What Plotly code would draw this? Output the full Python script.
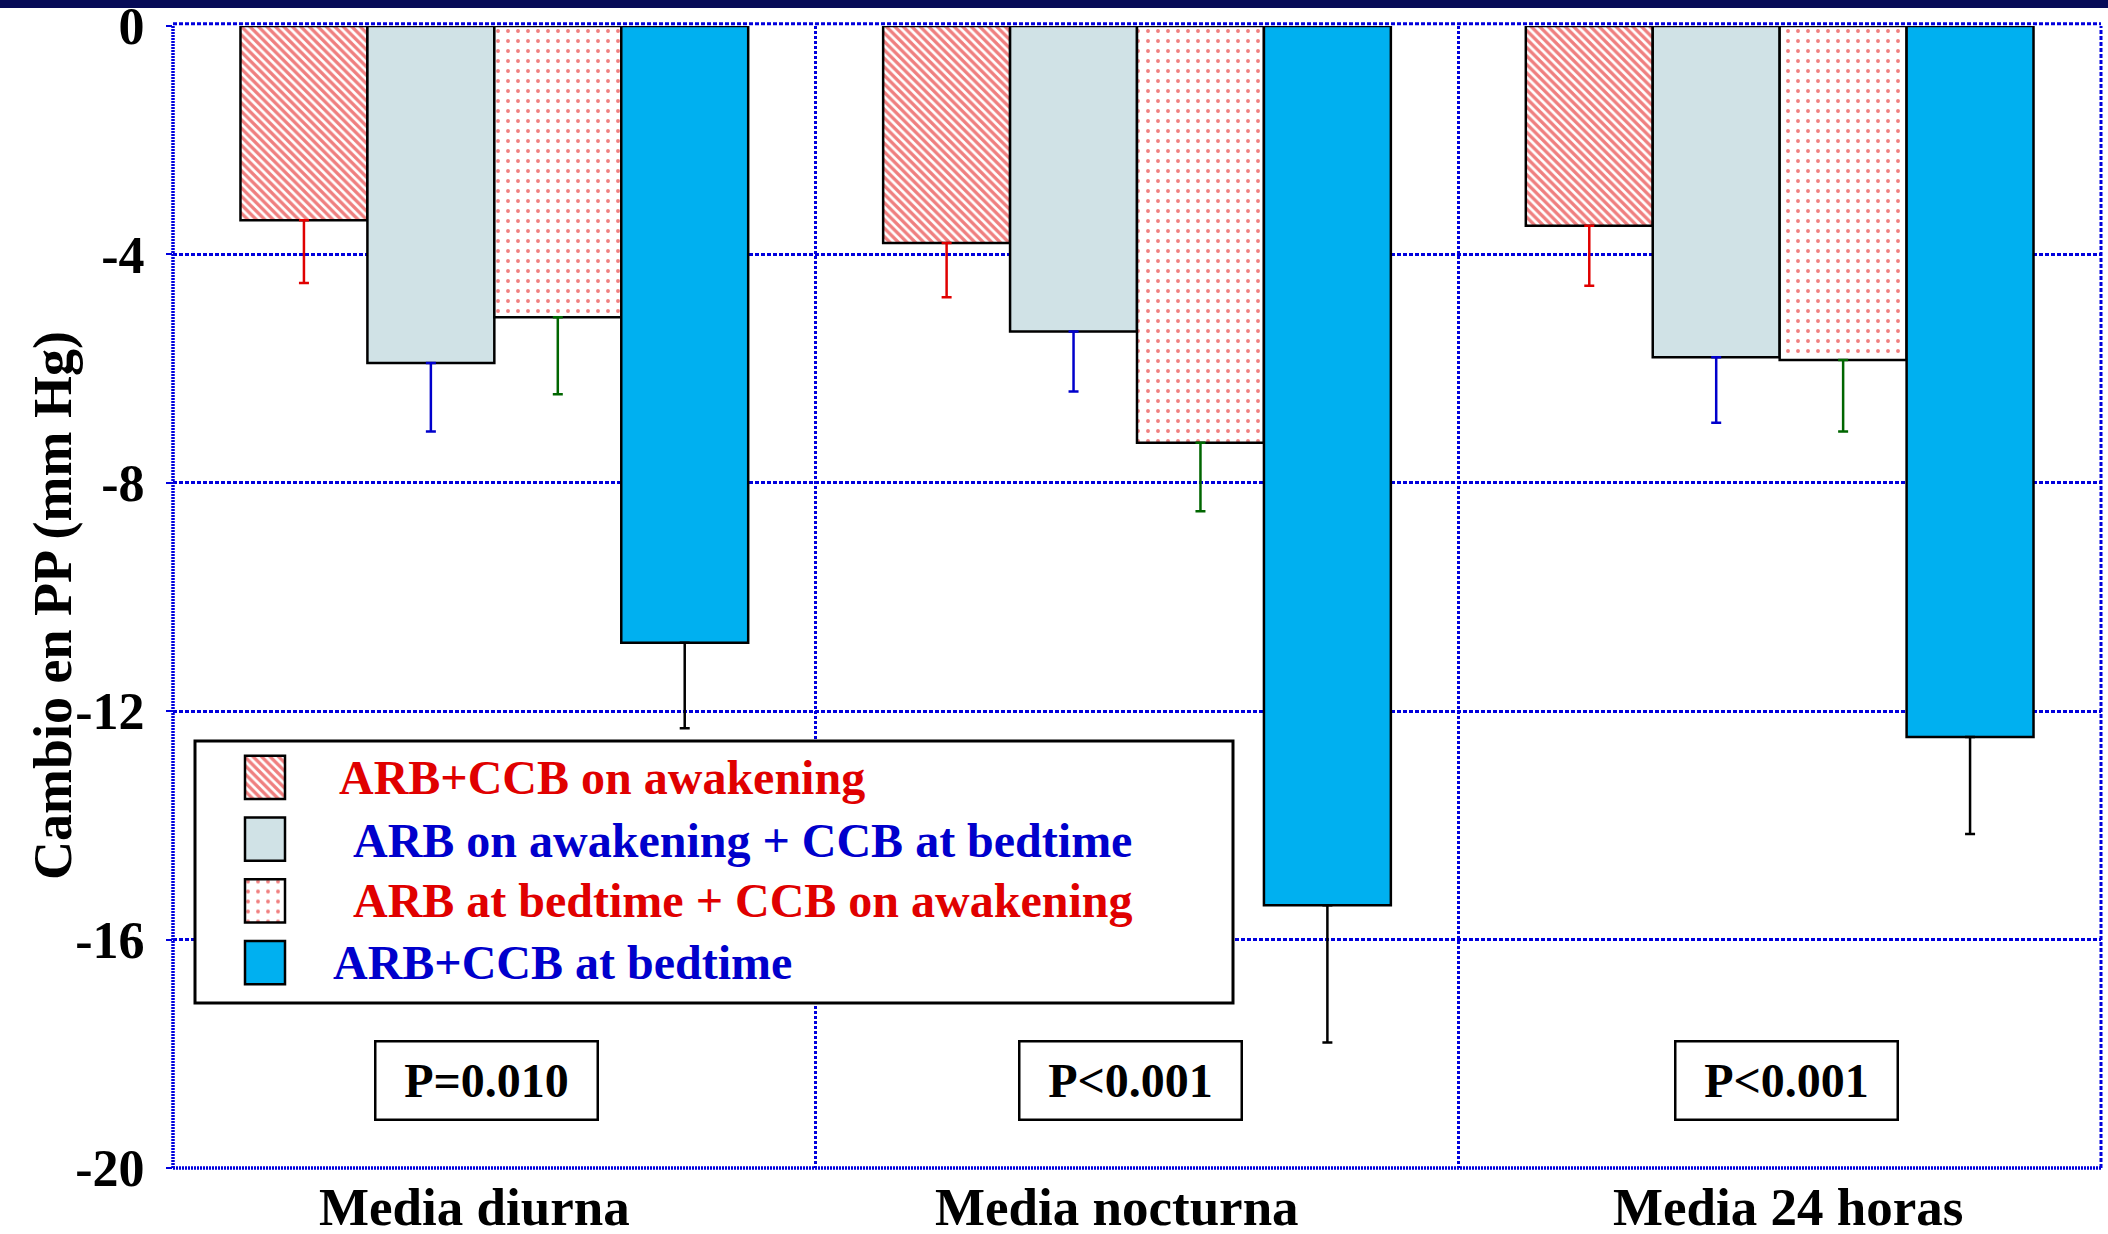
import plotly.graph_objects as go

# ---------------- data ----------------
categories = ["Media diurna", "Media nocturna", "Media 24 horas"]
series_names = [
    "ARB+CCB on awakening",
    "ARB on awakening + CCB at bedtime",
    "ARB at bedtime + CCB on awakening",
    "ARB+CCB at bedtime",
]
v_arbccb_awak = [-3.4, -3.8, -3.5]
v_arb_awak_ccb_bed = [-5.9, -5.35, -5.8]
v_arb_bed_ccb_awak = [-5.1, -7.3, -5.85]
v_arbccb_bed = [-10.8, -15.4, -12.45]

e_arbccb_awak = [1.1, 0.95, 1.05]
e_arb_awak_ccb_bed = [1.2, 1.05, 1.15]
e_arb_bed_ccb_awak = [1.35, 1.2, 1.25]
e_arbccb_bed = [1.5, 2.4, 1.7]

p_labels = ["P=0.010", "P<0.001", "P<0.001"]
y_ticks = [0, -4, -8, -12, -16, -20]

# ---------------- styling ----------------
FONT = "Liberation Serif"
RED = "#E00000"
BLUE = "#0000CC"
GRID = "#0000DD"

values = [v_arbccb_awak, v_arb_awak_ccb_bed, v_arb_bed_ccb_awak, v_arbccb_bed]
errors = [e_arbccb_awak, e_arb_awak_ccb_bed, e_arb_bed_ccb_awak, e_arbccb_bed]
err_colors = [RED, BLUE, "#006600", "#000000"]
text_colors = [RED, BLUE, RED, BLUE]
text_x_px = [337, 351, 351, 331]

def marker_for(i):
    line = dict(color="black", width=2.5)
    if i == 0:
        return dict(color="white", line=line,
                    pattern=dict(shape="\\", fgcolor=RED, bgcolor="white",
                                 size=6, solidity=0.55))
    if i == 1:
        return dict(color="#D0E2E6", line=line)
    if i == 2:
        return dict(color="white", line=line,
                    pattern=dict(shape=".", fgcolor=RED, bgcolor="white",
                                 size=10, solidity=0.12))
    return dict(color="#00B0F0", line=line)

fig = go.Figure()
for i in range(4):
    fig.add_trace(go.Bar(
        x=categories, y=values[i], name=series_names[i],
        marker=marker_for(i),
        error_y=dict(type="data", symmetric=False,
                     array=[0] * len(errors[i]), arrayminus=errors[i],
                     color=err_colors[i], thickness=2.5, width=5),
        showlegend=False, xaxis="x", yaxis="y",
    ))

# legend swatches (own small axes)
for i in range(4):
    fig.add_trace(go.Bar(
        x=[1], y=[i], base=[0], orientation="h", width=0.7,
        marker=marker_for(i), showlegend=False,
        xaxis="x2", yaxis="y2", hoverinfo="skip",
    ))

W, H = 2108, 1234
L, R, T, B = 173, 7, 26, 66
PW, PH = W - L - R, H - T - B

def px_x(p):
    return (p - L) / PW

def px_y(p):
    return (H - B - p) / PH

fig.update_layout(
    width=W, height=H,
    margin=dict(l=L, r=R, t=T, b=B, autoexpand=False),
    paper_bgcolor="white", plot_bgcolor="rgba(0,0,0,0)",
    barmode="group", bargap=0.21, bargroupgap=0,
    font=dict(family=FONT, color="black"),
    xaxis=dict(
        domain=[0, 1], type="category", tickson="boundaries",
        showgrid=True, gridcolor=GRID, gridwidth=2.5, griddash="3px,2px",
        ticks="", showline=False, zeroline=False, showticklabels=False,
    ),
    yaxis=dict(
        range=[-20, 0], tickvals=y_ticks, ticktext=[str(t) for t in y_ticks],
        showgrid=True, gridcolor=GRID, gridwidth=3, griddash="4px,2px",
        zeroline=False, showline=False,
        ticks="outside", ticklen=6, tickcolor=GRID, tickwidth=2,
        tickfont=dict(family=FONT, size=52, color="black", weight="bold"),
        ticklabelstandoff=11, ticklabeloverflow="allow",
    ),
    xaxis2=dict(domain=[px_x(243), px_x(287)], range=[-0.05, 1.05],
                visible=False, anchor="y2", fixedrange=True),
    yaxis2=dict(domain=[px_y(993.5), px_y(746.5)], range=[3.5, -0.5],
                visible=False, anchor="x2", fixedrange=True),
)

def cat_x(p):
    return (p - L) / (PW / 3) - 0.5

def val_y(p):
    return -(p - T) / (PH / 20)

shapes = []
# top navy band
shapes.append(dict(type="rect", xref="paper", yref="paper",
                   x0=px_x(0), x1=px_x(W), y0=px_y(8), y1=px_y(0),
                   fillcolor="#070B57", line=dict(width=0), layer="above"))
# frame
shapes.append(dict(type="line", xref="paper", yref="paper", x0=0, x1=1, y0=1.002, y1=1.002,
                   line=dict(color=GRID, width=3, dash="4px,2px"), layer="below"))
shapes.append(dict(type="line", xref="paper", yref="paper", x0=1, x1=1, y0=0, y1=1,
                   line=dict(color=GRID, width=3, dash="4px,2px"), layer="above"))
shapes.append(dict(type="line", xref="paper", yref="paper", x0=0, x1=1, y0=0, y1=0,
                   line=dict(color=GRID, width=3.5, dash="2px,1px"), layer="above"))
shapes.append(dict(type="line", xref="paper", yref="paper", x0=0, x1=0, y0=0, y1=1,
                   line=dict(color=GRID, width=3.5, dash="2px,1px"), layer="above"))
# legend box
shapes.append(dict(type="rect", xref="x", yref="y",
                   x0=cat_x(195), x1=cat_x(1233), y0=val_y(1003), y1=val_y(741),
                   fillcolor="white", line=dict(color="black", width=3), layer="between"))
fig.update_layout(shapes=shapes)

annotations = []
# category labels
cat_centers_px = [474, 1117, 1788]
for i, c in enumerate(categories):
    annotations.append(dict(
        xref="x", yref="paper", x=cat_x(cat_centers_px[i]), y=px_y(1207),
        xanchor="center", yanchor="middle", showarrow=False, text=c,
        font=dict(family=FONT, size=53, color="black", weight="bold"),
    ))
# legend text
row_centers = [778, 840, 900, 962]
for i in range(4):
    annotations.append(dict(
        xref="paper", yref="paper", x=px_x(text_x_px[i]), y=px_y(row_centers[i]),
        xanchor="left", yanchor="middle", showarrow=False,
        text=series_names[i],
        font=dict(family=FONT, size=48, color=text_colors[i], weight="bold"),
    ))
# p-value boxes
p_centers_px = [486, 1130, 1786]
for i, lab in enumerate(p_labels):
    annotations.append(dict(
        xref="x", yref="y", x=cat_x(p_centers_px[i]), y=val_y(1080),
        xanchor="center", yanchor="middle", showarrow=False, text=lab,
        font=dict(family=FONT, size=48, color="black", weight="bold"),
        bordercolor="black", borderwidth=2.5, borderpad=0,
        bgcolor="white", width=220, height=76,
    ))
# y axis title
annotations.append(dict(
    xref="paper", yref="paper", x=px_x(53), y=px_y(606),
    xanchor="center", yanchor="middle", showarrow=False, textangle=-90,
    text="Cambio en PP (mm Hg)",
    font=dict(family=FONT, size=54, color="black", weight="bold"),
))
fig.update_layout(annotations=annotations)

fig.write_html(
    "out.html",
    config={"displayModeBar": False},
    post_script="document.body.style.margin='0';document.body.style.overflow='hidden';",
)
